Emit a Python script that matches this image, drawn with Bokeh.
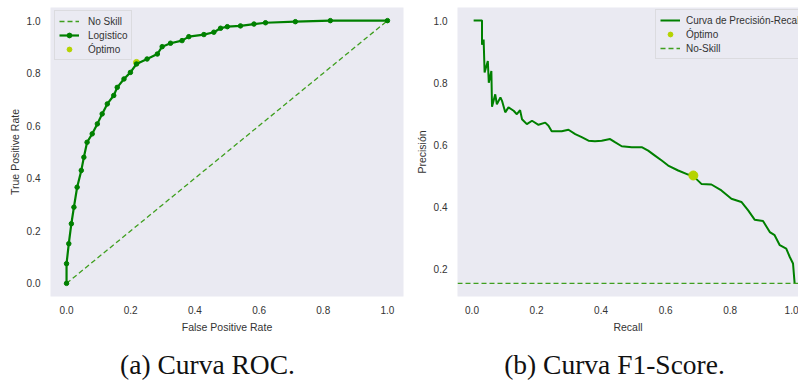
from bokeh.plotting import figure
from bokeh.layouts import row, column
from bokeh.models import FixedTicker, PrintfTickFormatter, Legend, LegendItem, Label
from bokeh.embed import file_html
from bokeh.resources import INLINE

# ---------------- data ----------------
roc_fpr = [0.0, 0.0, 0.007, 0.015, 0.023, 0.033, 0.046, 0.054, 0.064, 0.080, 0.096,
           0.111, 0.127, 0.147, 0.158, 0.179, 0.199, 0.218, 0.251, 0.283, 0.298,
           0.324, 0.360, 0.381, 0.428, 0.459, 0.480, 0.501, 0.542, 0.584, 0.620,
           0.713, 0.822, 1.0]
roc_tpr = [0.0, 0.075, 0.151, 0.227, 0.290, 0.366, 0.430, 0.480, 0.537, 0.569, 0.607,
           0.645, 0.683, 0.715, 0.746, 0.778, 0.803, 0.835, 0.854, 0.873, 0.901,
           0.914, 0.924, 0.939, 0.947, 0.956, 0.971, 0.977, 0.980, 0.987, 0.992,
           0.996, 1.0, 1.0]
noskill_roc_x = [0.0, 1.0]
noskill_roc_y = [0.0, 1.0]
roc_opt_x = [0.218]
roc_opt_y = [0.841]

pr_recall = [0.005, 0.031, 0.031, 0.036, 0.039, 0.049, 0.052, 0.060, 0.062, 0.072,
             0.077, 0.088, 0.093, 0.103, 0.113, 0.129, 0.139, 0.149, 0.155, 0.170,
             0.186, 0.206, 0.227, 0.237, 0.247, 0.278, 0.299, 0.320, 0.340, 0.361,
             0.381, 0.402, 0.428, 0.443, 0.464, 0.495, 0.526, 0.546, 0.567, 0.588,
             0.608, 0.639, 0.670, 0.686, 0.711, 0.742, 0.773, 0.804, 0.835, 0.856,
             0.876, 0.902, 0.923, 0.938, 0.954, 0.974, 0.985, 0.995, 1.0]
pr_precision = [1.0, 1.0, 0.922, 0.939, 0.833, 0.870, 0.800, 0.838, 0.723, 0.763,
                0.731, 0.753, 0.742, 0.705, 0.721, 0.710, 0.699, 0.712, 0.683, 0.667,
                0.678, 0.665, 0.672, 0.662, 0.644, 0.644, 0.649, 0.635, 0.625, 0.614,
                0.612, 0.614, 0.619, 0.609, 0.596, 0.593, 0.593, 0.582, 0.566, 0.550,
                0.534, 0.518, 0.505, 0.500, 0.475, 0.473, 0.454, 0.427, 0.417, 0.390,
                0.360, 0.356, 0.320, 0.310, 0.278, 0.267, 0.240, 0.219, 0.155]
pr_opt_x = [0.686]
pr_opt_y = [0.502]
pr_noskill = 0.155

ticks = [0.0, 0.2, 0.4, 0.6, 0.8, 1.0]
pr_yticks = [0.2, 0.4, 0.6, 0.8, 1.0]

captions = ["(a) Curva ROC.", "(b) Curva F1-Score."]

# ---------------- style ----------------
BG = "#EAEAF2"
GREEN = "#008000"
DASH_GREEN = "#3f9f1f"
OPT = "#b5d300"
SANS = "Liberation Sans"
TXT = "#333333"
PLOT_H = 336
CAP_H = 383 - PLOT_H


def style(p, xlabel, ylabel, xticks, yticks):
    p.background_fill_color = BG
    p.border_fill_color = "white"
    p.outline_line_color = None
    p.grid.visible = False
    for ax, lab, tk in ((p.xaxis[0], xlabel, xticks), (p.yaxis[0], ylabel, yticks)):
        ax.ticker = FixedTicker(ticks=tk)
        ax.formatter = PrintfTickFormatter(format="%.1f")
        ax.axis_label = lab
        ax.axis_line_color = None
        ax.major_tick_line_color = None
        ax.minor_tick_line_color = None
        ax.major_tick_out = 0
        ax.major_tick_in = 0
        ax.minor_tick_out = 0
        ax.minor_tick_in = 0
        ax.major_label_text_font = SANS
        ax.major_label_text_font_size = "10px"
        ax.major_label_text_color = TXT
        ax.axis_label_text_font = SANS
        ax.axis_label_text_font_size = "10.5px"
        ax.axis_label_text_font_style = "normal"
        ax.axis_label_text_color = TXT
    p.xaxis.major_label_standoff = 9
    p.xaxis.axis_label_standoff = 4
    p.yaxis.major_label_standoff = 10
    p.yaxis.axis_label_standoff = 3


def style_legend(lg):
    lg.background_fill_color = BG
    lg.background_fill_alpha = 1.0
    lg.border_line_color = "#cccccc"
    lg.border_line_width = 1
    lg.label_text_font = SANS
    lg.label_text_font_size = "10px"
    lg.label_text_color = TXT
    lg.glyph_height = 12
    lg.label_height = 12
    lg.glyph_width = 20
    lg.spacing = 2
    lg.padding = 4
    lg.margin = 0


# ---------------- left: ROC ----------------
p1 = figure(width=405, height=PLOT_H, output_backend="svg", toolbar_location=None,
            x_range=(-0.05, 1.05), y_range=(-0.05, 1.05),
            min_border_left=50, min_border_right=2, min_border_top=7, min_border_bottom=40)
style(p1, "False Positive Rate", "True Positive Rate", ticks, ticks)

opt1 = p1.scatter(roc_opt_x, roc_opt_y, size=6, color=OPT)
ns1 = p1.line(noskill_roc_x, noskill_roc_y, color=DASH_GREEN, line_width=1.3, line_dash="5 3")
l1 = p1.line(roc_fpr, roc_tpr, color=GREEN, line_width=2.2)
m1 = p1.scatter(roc_fpr, roc_tpr, size=4.5, color=GREEN)

leg1 = Legend(items=[LegendItem(label="No Skill", renderers=[ns1]),
                     LegendItem(label="Logistico", renderers=[l1, m1]),
                     LegendItem(label="Óptimo", renderers=[opt1])],
              location=(4, 236))
style_legend(leg1)
leg1.label_standoff = 9
p1.add_layout(leg1)

# ---------------- right: PR ----------------
p2 = figure(width=393, height=PLOT_H, output_backend="svg", toolbar_location=None,
            x_range=(-0.045, 1.012), y_range=(0.113, 1.042),
            min_border_left=52, min_border_right=0, min_border_top=7, min_border_bottom=40)
style(p2, "Recall", "Precisión", ticks, pr_yticks)

l2 = p2.line(pr_recall, pr_precision, color=GREEN, line_width=2)
opt2 = p2.scatter(pr_opt_x, pr_opt_y, size=9, color=OPT)
ns2 = p2.line([p2.x_range.start, p2.x_range.end], [pr_noskill, pr_noskill],
              color=DASH_GREEN, line_width=1.3, line_dash="5 3")

leg2 = Legend(items=[LegendItem(label="Curva de Precisión-Recall", renderers=[l2]),
                     LegendItem(label="Óptimo", renderers=[opt2]),
                     LegendItem(label="No-Skill", renderers=[ns2])],
              location=(198, 237))
style_legend(leg2)
leg2.label_standoff = 6
p2.add_layout(leg2)

# ---------------- captions strip ----------------
pc = figure(width=798, height=CAP_H, output_backend="svg", toolbar_location=None,
            x_range=(0, 798), y_range=(0, CAP_H),
            min_border_left=0, min_border_right=0, min_border_top=0, min_border_bottom=0)
pc.axis.visible = False
pc.grid.visible = False
pc.outline_line_color = None
pc.background_fill_color = "white"
pc.border_fill_color = "white"
for cx, txt in zip([207, 614], captions):
    pc.add_layout(Label(x=cx, y=19, x_units="screen", y_units="screen", text=txt,
                        text_align="center", text_baseline="alphabetic",
                        text_font="Liberation Serif", text_font_size="27.5px",
                        text_color="#111111"))

layout = column(row(p1, p2), pc)
open("out.html", "w").write(file_html(layout, INLINE))
